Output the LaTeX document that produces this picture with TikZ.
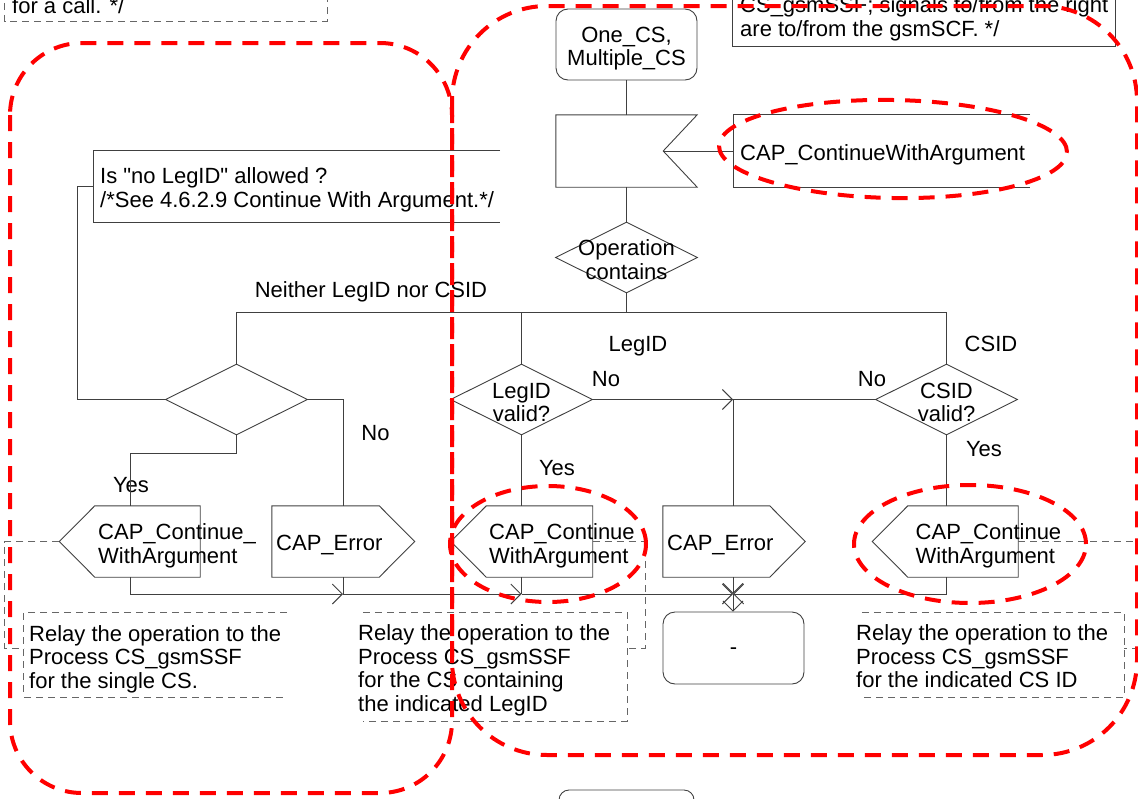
\documentclass[tikz,border=0pt]{standalone}
\usepackage{fontspec}
\setmainfont{Liberation Sans}
\newfontfamily\plainqfont{Liberation Sans}
\usetikzlibrary{shapes.geometric,arrows.meta}
\newcommand\sdlsendR[1]{\draw[ln] (#1.north west) -- (#1.north east) -- ([xshift=35.5pt]#1.east) -- (#1.south east) -- (#1.south west) -- cycle;}
\newcommand\sdlsendL[1]{\draw[ln] (#1.north east) -- (#1.north west) -- ([xshift=-35.5pt]#1.west) -- (#1.south west) -- (#1.south east) -- cycle;}
\begin{document}
\begin{tikzpicture}[x=1pt,y=-1pt,
  ln/.style={draw=black!75, line width=0.9pt},
  cmtline/.style={draw=black!60, line width=0.8pt, dash pattern=on 7pt off 5pt},
  redmark/.style={draw=red, line width=4pt, dash pattern=on 16pt off 11pt},
  dia/.style={diamond, ln, aspect=2, inner sep=0pt, minimum width=142pt, minimum height=71pt},
  shp/.style={inner sep=0pt, minimum height=71pt},
  txt/.style={font=\fontsize{22}{23.4}\selectfont, inner sep=0pt, align=left, text=black},
  sdlarrow/.style={-{Straight Barb[length=10pt,width=20pt]}}
]
\useasboundingbox (0,0) rectangle (1138,798);
\clip (0,0) rectangle (1138,798);

% top comments
\node[shp, minimum width=322pt, minimum height=90pt] (k0) at (166,-24) {};
\draw[cmtline] (k0.north west) rectangle (k0.south east);
\node[txt, anchor=base west] (k0t) at (12,13) {for a call. */};
\node[shp, minimum width=382pt, minimum height=90pt] (kr) at (924,1) {};
\draw[ln] (kr.north west) rectangle (kr.south east);
\node[txt, anchor=west] (krt) at (740,18.7) {CS\_gsmSSF; signals to/from the right\\are to/from the gsmSCF. */};

% start state
\node[ln, rounded corners=12pt, inner sep=0pt, minimum width=141pt, minimum height=71pt] (start) at (626.5,44.5) {};
\node[txt, align=center] (startt) at (626.5,48.5) {One\_CS,\\Multiple\_CS};

% input
\node[shp, minimum width=141pt, minimum height=72pt] (inp) at (626.5,151) {};
\draw[ln] (inp.north west) -- (inp.north east) -- ([xshift=-34pt]inp.east) -- (inp.south east) -- (inp.south west) -- cycle;
\node[shp, minimum width=296pt, minimum height=72pt] (cwa) at (882,151) {};
\draw[ln] (cwa.north east) -- (cwa.north west) -- (cwa.south west) -- (cwa.south east);
\node[txt, anchor=base west] (cwat) at (740,160) {CAP\_ContinueWithArgument};
\draw[ln] ([xshift=-34pt]inp.east) -- (cwa.west);
\draw[ln] (start.south) -- (inp.north);

% operation contains
\node[dia] (op) at (626.5,257.5) {};
\node[txt, align=center] (opt) at (626.5,259.5) {Operation\\contains};
\draw[ln] (inp.south) -- (op.north);

\coordinate (bO) at (626.5,312);
\coordinate (bL) at (236.5,312);
\coordinate (bM) at (521.5,312);
\coordinate (bR) at (946.5,312);
\draw[ln] (op.south) -- (bO);
\draw[ln] (bL) -- (bR);
\node[txt, anchor=base] (lneither) at (371,297) {Neither LegID nor CSID};
\node[txt, anchor=base] (llegid) at (638,351) {LegID};
\node[txt, anchor=base] (lcsid) at (991,351) {CSID};

% decisions
\node[dia] (d1) at (236.5,399.5) {};
\node[dia] (d2) at (521.5,399.5) {};
\node[txt, align=center] (d2t) at (521.5,402.5) {LegID\\valid?};
\node[dia] (d3) at (946.5,399.5) {};
\node[txt, align=center] (d3t) at (946.5,402.5) {CSID\\valid?};
\draw[ln] (bL) -- (d1.north);
\draw[ln] (bM) -- (d2.north);
\draw[ln] (bR) -- (d3.north);

% comment on d1
\node[shp, minimum width=406pt, minimum height=71pt] (c1) at (297,186.5) {};
\draw[ln] (c1.north east) -- (c1.north west) -- (c1.south west) -- (c1.south east);
\node[txt, anchor=west, font=\fontsize{22}{23.4}\plainqfont] (c1t) at (100,190) {Is "no LegID" allowed ?\\/*See 4.6.2.9 Continue With Argument.*/};
\coordinate (c1k) at (77,186.5);
\draw[ln] (c1.west) -- (c1k) |- (d1.west);

% outputs
\node[shp, minimum width=105pt] (o1) at (147.5,541.5) {};
\sdlsendL{o1}
\node[txt, anchor=west] (o1t) at (98,546) {CAP\_Continue\_\\WithArgument};
\node[shp, minimum width=107pt] (e1) at (325.5,541.5) {};
\sdlsendR{e1}
\node[txt, anchor=base west] (e1t) at (276,550) {CAP\_Error};
\node[shp, minimum width=106pt] (o2) at (539.5,541.5) {};
\sdlsendL{o2}
\node[txt, anchor=west] (o2t) at (489,546) {CAP\_Continue\\WithArgument};
\node[shp, minimum width=106.5pt] (e2) at (716.25,541.5) {};
\sdlsendR{e2}
\node[txt, anchor=base west] (e2t) at (667,550) {CAP\_Error};
\node[shp, minimum width=110pt] (o3) at (963,541.5) {};
\sdlsendL{o3}
\node[txt, anchor=west] (o3t) at (915.5,546) {CAP\_Continue\\WithArgument};

% branch labels
\node[txt, anchor=base] (lno1) at (375.5,440) {No};
\node[txt, anchor=base] (lyes1) at (131,492) {Yes};
\node[txt, anchor=base] (lno2) at (606,386) {No};
\node[txt, anchor=base] (lyes2) at (557,475) {Yes};
\node[txt, anchor=base] (lno3) at (872,386) {No};
\node[txt, anchor=base] (lyes3) at (984,456) {Yes};

% decision connectors
\draw[ln] (d1.east) -| ([xshift=17.5pt]e1.north);
\draw[ln] (d1.south) -- ++(0,18) -| ([xshift=-17.5pt]o1.north);
\draw[ln] (d2.south) -- (d2.south |- o2.north);
\draw[ln] (d3.south) -- (d3.south |- o3.north);
\coordinate (m) at (733,399.5);
\draw[ln,sdlarrow] (d2.east) -- (m);
\draw[ln] (d3.west) -- (m) -- (m |- e2.north);

% merge
\coordinate (j1) at (343,594);
\coordinate (j2) at (521.5,594);
\coordinate (j3) at (733,594);
\node[ln, rounded corners=12pt, inner sep=0pt, minimum width=141pt, minimum height=72pt] (stA) at (733.5,648) {};
\node[txt] (stAt) at (733.5,651) {-};
\draw[ln,sdlarrow] ([xshift=-17.5pt]o1.south) |- (j1);
\draw[ln] ([xshift=17.5pt]e1.south) -- (j1);
\draw[ln,sdlarrow] (j1) -- (j2);
\draw[ln] (o2.south -| j2) -- (j2);
\draw[ln,sdlarrow] (j2) -- (j3);
\draw[ln,sdlarrow] (e2.south -| j3) -- (j3);
\draw[ln,sdlarrow] (o3.south -| d3.south) |- (j3);
\draw[ln,sdlarrow] (j3) -- (j3 |- stA.north);

% next state (cut off)
\node[ln, rounded corners=10pt, inner sep=0pt, minimum width=135pt, minimum height=72pt] (stB) at (626.5,826) {};

% comments at bottom
\node[shp, minimum width=263pt, minimum height=84pt] (k1) at (155.5,655) {};
\draw[cmtline] (k1.north east) -- (k1.north west) -- (k1.south west) -- (k1.south east);
\draw[cmtline] ([xshift=-35.5pt]o1.west) -- ++(-54.5,0) |- ([yshift=7pt]k1.west);
\node[txt, anchor=west] (k1t) at (29,659) {Relay the operation to the\\Process CS\_gsmSSF\\for the single CS.};

\node[shp, minimum width=264pt, minimum height=108pt] (k2) at (495,667) {};
\draw[cmtline] (k2.north west) -- (k2.north east) -- (k2.south east) -- (k2.south west);
\draw[cmtline] (o2.east) -- ++(52.5,0) |- ([yshift=19pt]k2.east);
\node[txt, anchor=west] (k2t) at (358,670.4) {Relay the operation to the\\Process CS\_gsmSSF\\for the CS containing\\the indicated LegID};

\node[shp, minimum width=262pt, minimum height=84pt] (k3) at (993,655) {};
\draw[cmtline] (k3.north west) -- (k3.north east) -- (k3.south east) -- (k3.south west);
\draw[cmtline] (o3.east) -- ++(127,0) |- ([yshift=7pt]k3.east);
\node[txt, anchor=west] (k3t) at (856,656.5) {Relay the operation to the\\Process CS\_gsmSSF\\for the indicated CS ID};

% red markings
\draw[redmark, rounded corners=72pt] (10,43) rectangle (452,793);
\draw[redmark, rounded corners=95pt] (452,6) rectangle (1137,755);
\draw[redmark, rotate around={-1:(893,149)}] (893,149) ellipse [x radius=174pt, y radius=49pt];
\draw[redmark] (548,544) ellipse [x radius=98pt, y radius=58pt];
\draw[redmark] (970,544) ellipse [x radius=116pt, y radius=59pt];
\end{tikzpicture}
\end{document}
